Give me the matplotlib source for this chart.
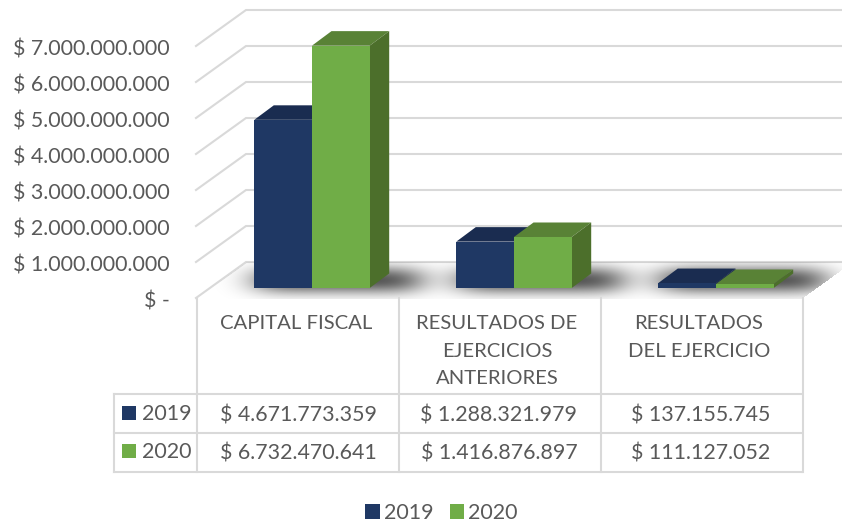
import numpy as np
import matplotlib
matplotlib.use('Agg')
import matplotlib.pyplot as plt

plt.rcParams['font.family'] = ['Lato', 'DejaVu Sans']

# data
categories = ['CAPITAL FISCAL', 'RESULTADOS DE\nEJERCICIOS\nANTERIORES', 'RESULTADOS\nDEL EJERCICIO']
values_2019 = [4671773359, 1288321979, 137155745]
values_2020 = [6732470641, 1416876897, 111127052]
labels_2019 = ['$ 4.671.773.359', '$ 1.288.321.979', '$ 137.155.745']
labels_2020 = ['$ 6.732.470.641', '$ 1.416.876.897', '$ 111.127.052']
series_names = ['2019', '2020']
y_ticks = [0, 1e9, 2e9, 3e9, 4e9, 5e9, 6e9, 7e9]
y_labels = ['$ -', '$ 1.000.000.000', '$ 2.000.000.000', '$ 3.000.000.000',
            '$ 4.000.000.000', '$ 5.000.000.000', '$ 6.000.000.000', '$ 7.000.000.000']

W, H = 842, 522
GREY = '#595959'
LINE = '#D9D9D9'
FS = 15.4

# scale of the value axes: 202 px per category, 36 px per 1.000 millones
PX_X = 1 / 202
PX_Y = 1e9 / 36
X0, Y0 = 312, 288  # pixel of category 0 / value 0


def xd(px):
    return (px - X0) * PX_X


def yd(py):
    return (Y0 - py) * PX_Y


fig = plt.figure(figsize=(W / 100, H / 100), dpi=100)
ax = fig.add_axes([0, 0, 1, 1])
ax.set_xlim(xd(0), xd(W))
ax.set_ylim(yd(H), yd(0))
ax.axis('off')

# walls and gridlines
wall_dx = 50 * PX_X
wall_dy = 36 * PX_Y
front_off = -10 * PX_Y
for v in y_ticks:
    y_front = v + front_off
    ax.plot([xd(196), xd(196) + wall_dx, xd(W)], [y_front, y_front + wall_dy, y_front + wall_dy],
            color=LINE, lw=1.5, zorder=1, solid_joinstyle='miter')

# floor shadow, blurred and clipped to the floor
yy, xx = np.mgrid[262:299, 0:W]
floor = (xx >= 196 + (298 - yy) * 50 / 36) & (xx <= 802 + (298 - yy) * 50 / 36)
kx = np.exp(-np.arange(-54, 55) ** 2 / (2 * 18.0 ** 2))
kx /= kx.sum()
ky = np.exp(-np.arange(-21, 22) ** 2 / (2 * 7.0 ** 2))
ky /= ky.sum()
shadow = np.zeros(xx.shape)
for start in (258, 460, 662):
    shadow[(xx >= start) & (xx <= start + 160) & (yy >= 270) & (yy <= 289)] = 1.0
shadow = np.apply_along_axis(lambda r: np.convolve(r, kx, mode='same'), 1, shadow)
pad = np.pad(shadow, ((21, 21), (0, 0)), mode='constant')
shadow = np.apply_along_axis(lambda c: np.convolve(c, ky, mode='same'), 0, pad)[21:-21]
rgba = np.zeros(xx.shape + (4,))
rgba[..., 3] = shadow * floor * 0.78
ax.imshow(rgba, extent=(xd(0), xd(W), yd(299), yd(262)), aspect='auto', zorder=2, interpolation='bilinear')
ax.set_xlim(xd(0), xd(W))
ax.set_ylim(yd(H), yd(0))

# bars with top and side faces
bar_w = 57.7 * PX_X
depth_x = 19.5 * PX_X
depth_y = 14.5 * PX_Y
x = np.arange(len(categories))
series = [
    (values_2019, x - bar_w, '#1F3864', '#1A2C50', '#1A2C50', 3),
    (values_2020, x, '#70AD47', '#4C6F2B', '#598236', 4),
]
handles = []
for (vals, lefts, front, side, top, z), name in zip(series, series_names):
    for left, v in zip(lefts, vals):
        right = left + bar_w
        ax.fill([left, right, right + depth_x, left + depth_x],
                [v, v, v + depth_y, v + depth_y], color=top, lw=0, zorder=z)
        ax.fill([right, right + depth_x, right + depth_x, right],
                [0, depth_y, v + depth_y, v], color=side, lw=0, zorder=z)
    bars = ax.bar(lefts, vals, bar_w, align='edge', color=front, lw=0, zorder=z, label=name)
    handles.append(bars)

# y labels sit on the front edge of the wall
for v, lab in zip(y_ticks, y_labels):
    ax.text(xd(170), v + front_off - 4 * PX_Y, lab, ha='right', va='center', color=GREY, fontsize=FS, zorder=6)

# data table, drawn in pixels over the chart
tb = fig.add_axes([0, 0, 1, 1], facecolor='none')
tb.set_xlim(0, W)
tb.set_ylim(H, 0)
tb.axis('off')
col_edges = [196, 398, 600, 802]
col_mid = [297, 498, 700]
for c in col_edges:
    tb.plot([c + 1, c + 1], [298, 472], color=LINE, lw=1.5)
tb.plot([114, 114], [394, 472], color=LINE, lw=1.5)
for r in (394, 433, 472):
    tb.plot([114, 802], [r, r], color=LINE, lw=1.5)
for cm, cat in zip(col_mid, categories):
    tb.text(cm - 1, 315, cat, ha='center', va='top', color=GREY, fontsize=14.6, linespacing=1.76)
for cm, a, b in zip(col_mid, labels_2019, labels_2020):
    tb.text(cm + 1, 415, a, ha='center', va='center', color=GREY, fontsize=FS)
    tb.text(cm + 1, 453, b, ha='center', va='center', color=GREY, fontsize=FS)
for ky_, name, col in zip((413, 451), series_names, ('#1F3864', '#70AD47')):
    tb.fill([122, 136, 136, 122], [ky_ - 7, ky_ - 7, ky_ + 7, ky_ + 7], color=col, lw=0)
    tb.text(142, ky_ + 1, name, ha='left', va='center', color=GREY, fontsize=FS)

# bottom legend
tb.legend(handles, series_names, loc='center left', bbox_to_anchor=(346, 513), bbox_transform=tb.transData,
          ncol=2, frameon=False, fontsize=FS, labelcolor=GREY, handlelength=0.67, handleheight=0.67,
          handletextpad=0.2, columnspacing=0.75)

fig.savefig('out.png', dpi=100)
